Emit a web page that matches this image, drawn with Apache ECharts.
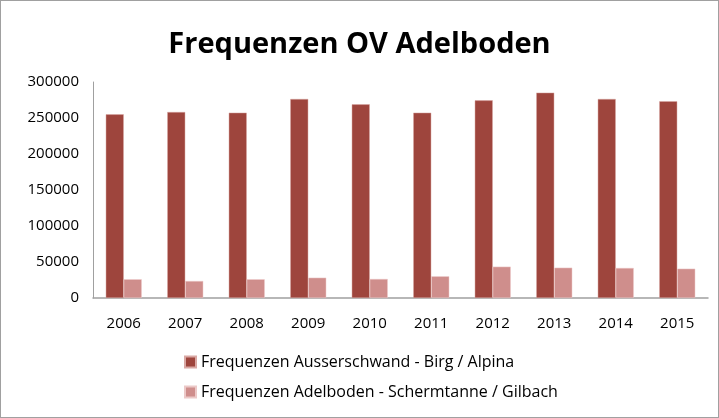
<!DOCTYPE html>
<html>
<head>
<meta charset="utf-8">
<script src="https://cdn.jsdelivr.net/npm/echarts@6/dist/echarts.min.js"></script>
<style>
  html, body { margin: 0; padding: 0; background: #fff; }
  #chart { width: 717px; height: 416px; border: 1px solid #a0a0a0; }
</style>
</head>
<body>
<div id="chart"></div>
<script>
const years = ["2006", "2007", "2008", "2009", "2010", "2011", "2012", "2013", "2014", "2015"];
const ausserschwand = [255100, 258300, 257400, 276400, 269000, 257400, 274500, 285200, 276400, 273200];
const adelboden = [26000, 23600, 26000, 28200, 26400, 30100, 43500, 42100, 41700, 40700];
const seriesNames = [
  "Frequenzen Ausserschwand - Birg / Alpina",
  "Frequenzen Adelboden - Schermtanne / Gilbach"
];

const chart = echarts.init(document.getElementById("chart"));
const font = "'Open Sans', 'Liberation Sans', sans-serif";
chart.setOption({
  animation: false,
  textStyle: { fontFamily: font },
  title: {
    text: "Frequenzen OV Adelboden",
    left: "center",
    top: 24,
    textStyle: { fontSize: 29, fontWeight: "bold", color: "#000", fontFamily: font }
  },
  legend: {
    orient: "vertical",
    left: 178,
    top: 348,
    itemWidth: 11,
    itemHeight: 11,
    itemGap: 14,
    icon: "rect",
    textStyle: { fontSize: 16, color: "#000", fontFamily: font }
  },
  grid: { left: 92, right: 10, top: 81, height: 216, containLabel: false },
  xAxis: {
    type: "category",
    data: years,
    axisLine: { lineStyle: { color: "#a0a0a0", width: 1.5 } },
    axisTick: { show: false },
    axisLabel: { fontSize: 15, color: "#000", margin: 18, fontFamily: font }
  },
  yAxis: {
    type: "value",
    min: 0,
    max: 300000,
    interval: 50000,
    splitLine: { show: false },
    axisLine: { show: true, lineStyle: { color: "#a0a0a0" } },
    axisTick: { show: false },
    axisLabel: {
      fontSize: 15, color: "#000", margin: 14, fontFamily: font,
      formatter: (v) => String(v)
    }
  },
  series: [
    {
      name: seriesNames[0],
      type: "bar",
      data: ausserschwand,
      barWidth: 18,
      barGap: "0%",
      itemStyle: { color: "#9e453d", borderColor: "#d9a8a4", borderWidth: 0.5 }
    },
    {
      name: seriesNames[1],
      type: "bar",
      data: adelboden,
      barWidth: 18,
      itemStyle: { color: "#cf8e8c", borderColor: "#ecc9c8", borderWidth: 0.5 }
    }
  ]
});
</script>
</body>
</html>
